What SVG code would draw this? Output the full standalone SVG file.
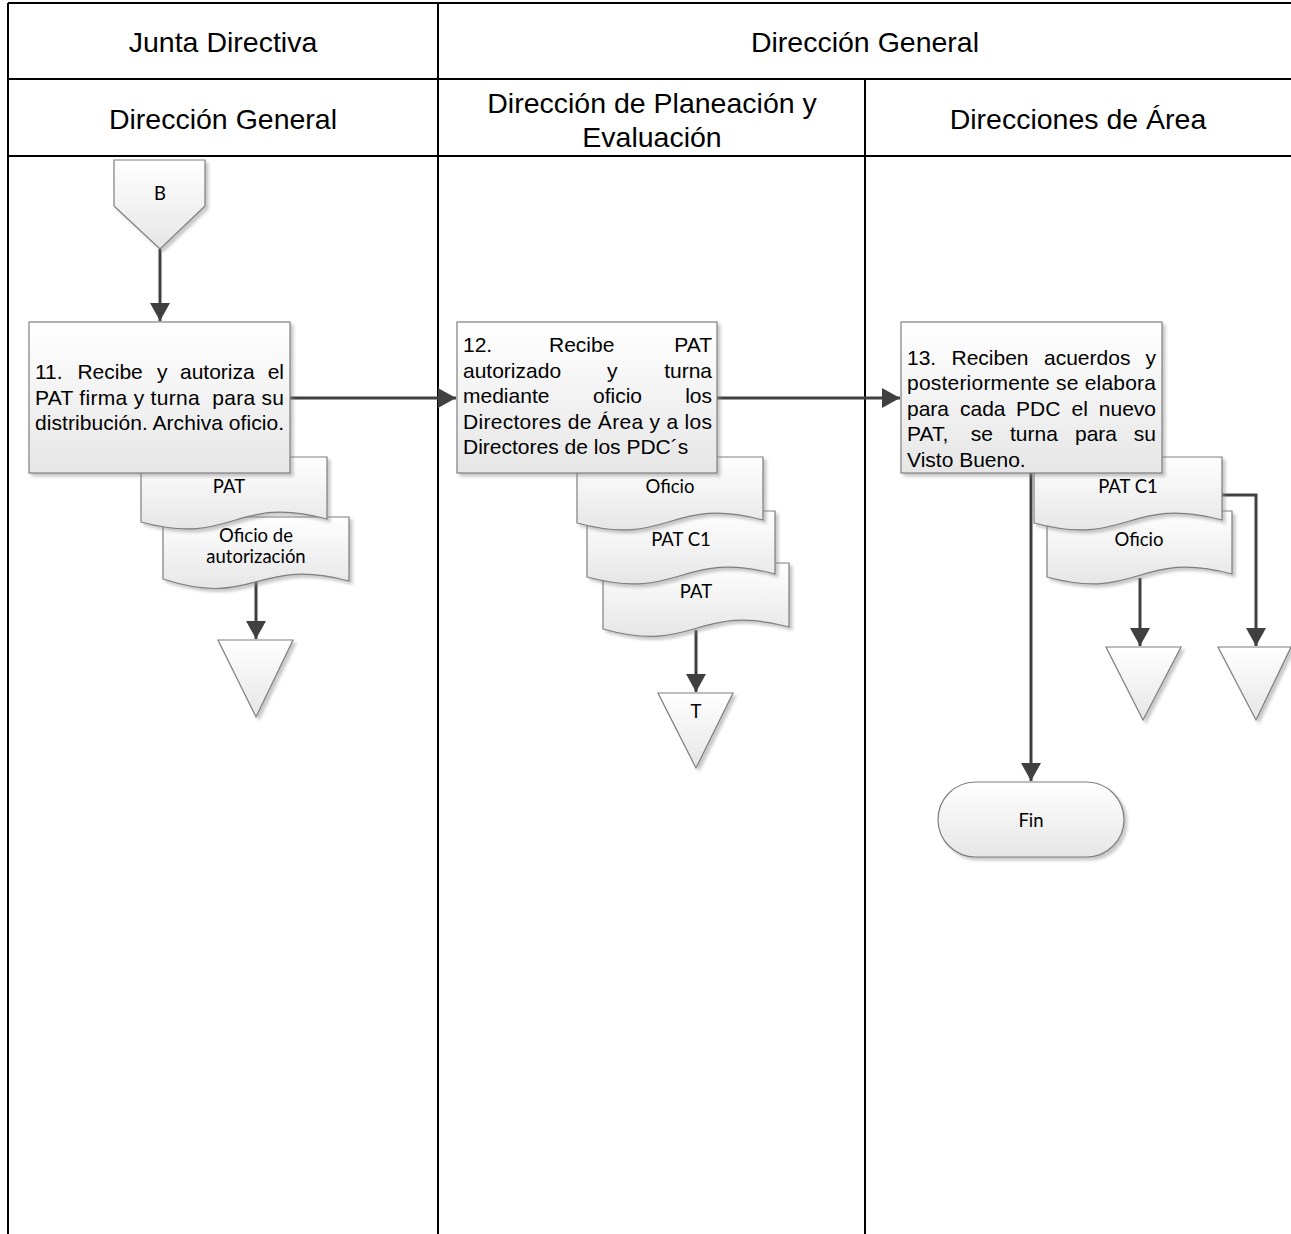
<svg xmlns="http://www.w3.org/2000/svg" width="1291" height="1234" viewBox="0 0 1291 1234">
<defs>
<linearGradient id="g" x1="0" y1="0" x2="0" y2="1">
<stop offset="0" stop-color="#ffffff"/>
<stop offset="1" stop-color="#e6e6e6"/>
</linearGradient>
<filter id="sh" x="-10%" y="-10%" width="130%" height="130%">
<feDropShadow dx="3" dy="3" stdDeviation="1.5" flood-color="#888" flood-opacity="0.45"/>
</filter>
<marker id="ah" markerUnits="userSpaceOnUse" markerWidth="19" markerHeight="20" refX="18" refY="10" orient="auto">
<path d="M0,0 L18,10 L0,20 z" fill="#404040"/>
</marker>
<style>
.grid{stroke:#000;stroke-width:2;fill:none}
.hdr{font-family:"Liberation Sans",Arial,sans-serif;font-size:28.5px;fill:#000;text-anchor:middle}
.shape{fill:url(#g);stroke:#7f7f7f;stroke-width:1.2;filter:url(#sh)}
.txt{font-family:"Liberation Sans",Arial,sans-serif;font-size:21px;fill:#000}
.end{text-anchor:end}
.lbl{font-family:Lato,"Open Sans",sans-serif;font-size:18.5px;fill:#000;text-anchor:middle}
.con{stroke:#404040;stroke-width:3;fill:none}
.arr{stroke:#404040;stroke-width:3;fill:none;marker-end:url(#ah)}
</style>
</defs>
<rect width="1291" height="1234" fill="#fff"/>

<g id="table">
<line class="grid" x1="8" y1="3" x2="1291" y2="3"/>
<line class="grid" x1="8" y1="79" x2="1291" y2="79"/>
<line class="grid" x1="8" y1="156" x2="1291" y2="156"/>
<line class="grid" x1="8" y1="3" x2="8" y2="1234"/>
<line class="grid" x1="438" y1="3" x2="438" y2="1234"/>
<line class="grid" x1="865" y1="79" x2="865" y2="1234"/>
<text class="hdr" x="223" y="52">Junta Directiva</text>
<text class="hdr" x="865" y="52">Dirección General</text>
<text class="hdr" x="223" y="129">Dirección General</text>
<text class="hdr" x="652" y="113">Dirección de Planeación y</text>
<text class="hdr" x="652" y="147">Evaluación</text>
<text class="hdr" x="1078" y="129">Direcciones de Área</text>
</g>

<g id="connectors">
<line class="arr" x1="160" y1="249" x2="160" y2="321"/>
<line class="arr" x1="290" y1="398" x2="456" y2="398"/>
<line class="arr" x1="717" y1="398" x2="900" y2="398"/>
<line class="arr" x1="256" y1="582" x2="256" y2="639"/>
<line class="arr" x1="696" y1="630" x2="696" y2="692"/>
<line class="arr" x1="1031" y1="473" x2="1031" y2="781"/>
<polyline class="arr" points="1222,495 1256,495 1256,646"/>
<line class="arr" x1="1140" y1="578" x2="1140" y2="646"/>
</g>

<g id="node-B">
<path class="shape" d="M114,160 H205 V206 L160,249 L114,206 Z"/>
<text class="lbl" x="160" y="200">B</text>
</g>

<g id="doc-oficio-aut">
<path class="shape" d="M163,517 H349 V581 C256,556 256,609 163,579 Z"/>
<text class="lbl" x="256" y="542">Oficio de</text>
<text class="lbl" x="256" y="563">autorización</text>
</g>
<g id="doc-pat-11">
<path class="shape" d="M141,457 H327 V519 C234,494 234,547 141,522 Z"/>
<text class="lbl" x="229" y="493">PAT</text>
</g>
<g id="node-11">
<rect class="shape" x="29" y="322" width="261" height="151"/>
<text class="txt" x="35" y="379">11.</text>
<text class="txt" x="77.4" y="379">Recibe</text>
<text class="txt" x="157" y="379">y</text>
<text class="txt" x="180" y="379">autoriza</text>
<text class="txt end" x="284" y="379">el</text>
<text class="txt" x="35" y="405" textLength="249" lengthAdjust="spacing" xml:space="preserve">PAT firma y turna  para su</text>
<text class="txt" x="35" y="430" textLength="249" lengthAdjust="spacing">distribución. Archiva oficio.</text>
</g>
<g id="node-conn-11">
<path class="shape" d="M218,640 H293 L256,717 Z"/>
</g>

<g id="doc-pat-12">
<path class="shape" d="M603,563 H789 V627 C696,602 696,655 603,629 Z"/>
<text class="lbl" x="696" y="598">PAT</text>
</g>
<g id="doc-patc1-12">
<path class="shape" d="M587,511 H775 V574 C681,549 681,602 587,577 Z"/>
<text class="lbl" x="681" y="546">PAT C1</text>
</g>
<g id="doc-oficio-12">
<path class="shape" d="M577,457 H763 V520 C670,495 670,548 577,523 Z"/>
<text class="lbl" x="670" y="493">Oficio</text>
</g>
<g id="node-12">
<rect class="shape" x="457" y="322" width="260" height="151"/>
<text class="txt" x="463" y="352">12.</text>
<text class="txt" x="549" y="352">Recibe</text>
<text class="txt end" x="712" y="352">PAT</text>
<text class="txt" x="463" y="378">autorizado</text>
<text class="txt" x="607" y="378">y</text>
<text class="txt end" x="712" y="378">turna</text>
<text class="txt" x="463" y="403">mediante</text>
<text class="txt" x="593" y="403">oficio</text>
<text class="txt end" x="712" y="403">los</text>
<text class="txt" x="463" y="429" textLength="249" lengthAdjust="spacing">Directores de Área y a los</text>
<text class="txt" x="463" y="454">Directores de los PDC´s</text>
</g>
<g id="node-T">
<path class="shape" d="M658,693 H733 L696,768 Z"/>
<text class="lbl" x="696" y="718">T</text>
</g>

<g id="doc-oficio-13">
<path class="shape" d="M1047,511 H1232 V574 C1139,549 1139,602 1047,577 Z"/>
<text class="lbl" x="1139" y="546">Oficio</text>
</g>
<g id="doc-patc1-13">
<path class="shape" d="M1034,457 H1222 V520 C1128,495 1128,548 1034,523 Z"/>
<text class="lbl" x="1128" y="493">PAT C1</text>
</g>
<g id="node-13">
<rect class="shape" x="901" y="322" width="261" height="151"/>
<text class="txt" x="907" y="365">13.</text>
<text class="txt" x="951.5" y="365">Reciben</text>
<text class="txt" x="1044" y="365">acuerdos</text>
<text class="txt end" x="1156" y="365">y</text>
<text class="txt" x="907" y="390" textLength="249" lengthAdjust="spacing">posteriormente se elabora</text>
<text class="txt" x="907" y="416">para</text>
<text class="txt" x="960" y="416">cada</text>
<text class="txt" x="1016" y="416">PDC</text>
<text class="txt" x="1071.5" y="416">el</text>
<text class="txt end" x="1156" y="416">nuevo</text>
<text class="txt" x="907" y="441">PAT,</text>
<text class="txt" x="970.7" y="441">se</text>
<text class="txt" x="1010" y="441">turna</text>
<text class="txt" x="1075" y="441">para</text>
<text class="txt end" x="1156" y="441">su</text>
<text class="txt" x="907" y="467">Visto Bueno.</text>
</g>
<g id="node-conn-13a">
<path class="shape" d="M1106,647 H1181 L1143,720 Z"/>
</g>
<g id="node-conn-13b">
<path class="shape" d="M1218,647 H1291 L1256,720 Z"/>
</g>
<g id="node-fin">
<rect class="shape" x="938" y="782" width="186" height="75" rx="37.5" ry="37.5"/>
<text class="lbl" x="1031" y="827">Fin</text>
</g>
</svg>
